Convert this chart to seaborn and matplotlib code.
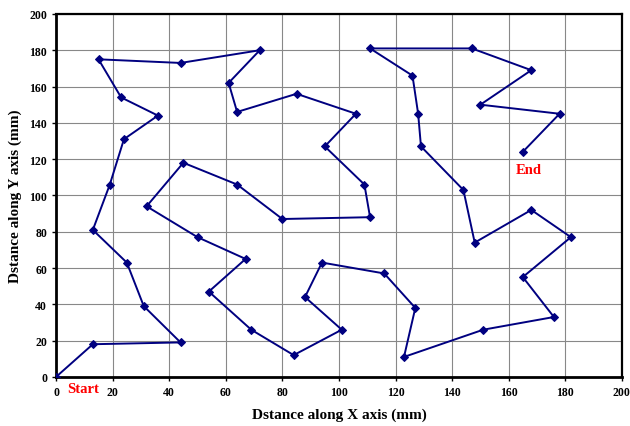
import pandas as pd
import numpy as np
import seaborn as sns
import matplotlib.pyplot as plt

# path points, in visiting order
x_mm = [0, 13, 44, 31, 25, 13, 19, 24, 36, 23, 15, 44, 72, 61, 64, 85, 106, 95, 109, 111,
        80, 64, 45, 32, 50, 67, 54, 69, 84, 101, 88, 94, 116, 127, 123, 151, 176, 165, 182,
        168, 148, 144, 129, 128, 126, 111, 147, 168, 150, 178, 165]
y_mm = [0, 18, 19, 39, 63, 81, 106, 131, 144, 154, 175, 173, 180, 162, 146, 156, 145, 127, 106, 88,
        87, 106, 118, 94, 77, 65, 47, 26, 12, 26, 44, 63, 57, 38, 11, 26, 33, 55, 77,
        92, 74, 103, 127, 145, 166, 181, 181, 169, 150, 145, 124]
ticks = list(range(0, 201, 20))

path = pd.DataFrame({'x': x_mm, 'y': y_mm, 'step': range(len(x_mm))})

sns.set_style('white', {'text.color': 'black', 'axes.labelcolor': 'black',
                        'xtick.color': 'black', 'ytick.color': 'black'})
plt.rcParams['font.family'] = ['Liberation Serif', 'DejaVu Serif']

fig = plt.figure(figsize=(6.3, 4.27), dpi=100)
ax = fig.add_axes([0.089, 0.115, 0.898, 0.85])

sns.lineplot(x='x', y='y', data=path, sort=False, estimator=None, ax=ax,
             color='#000080', linewidth=1.4, marker='D', markersize=4.3,
             markeredgecolor='#000080', zorder=3)

ax.set_xlim(0, 200)
ax.set_ylim(0, 200)
ax.set_xticks(ticks)
ax.set_yticks(ticks)
ax.grid(True, color='#888888', linewidth=0.8)
ax.tick_params(axis='both', labelsize=8.5, length=3, width=1, direction='out',
               left=True, bottom=True, color='black', labelcolor='black')
for lab in ax.get_xticklabels() + ax.get_yticklabels():
    lab.set_fontweight('bold')
for sp in ax.spines.values():
    sp.set_visible(True)
    sp.set_color('black')
    sp.set_linewidth(1.6)
ax.spines['left'].set_linewidth(2)
ax.spines['bottom'].set_linewidth(2)

ax.set_xlabel('Dstance along X axis (mm)', fontsize=11, fontweight='bold', labelpad=7, color='black')
ax.set_ylabel('Dstance along Y axis (mm)', fontsize=11, fontweight='bold', labelpad=5, color='black')

ax.text(4, -3, 'Start', color='red', fontsize=10.5, fontweight='bold', va='top', ha='left')
ax.text(162.5, 118, 'End', color='red', fontsize=10.5, fontweight='bold', va='top', ha='left')

plt.savefig('out.png', dpi=100)
